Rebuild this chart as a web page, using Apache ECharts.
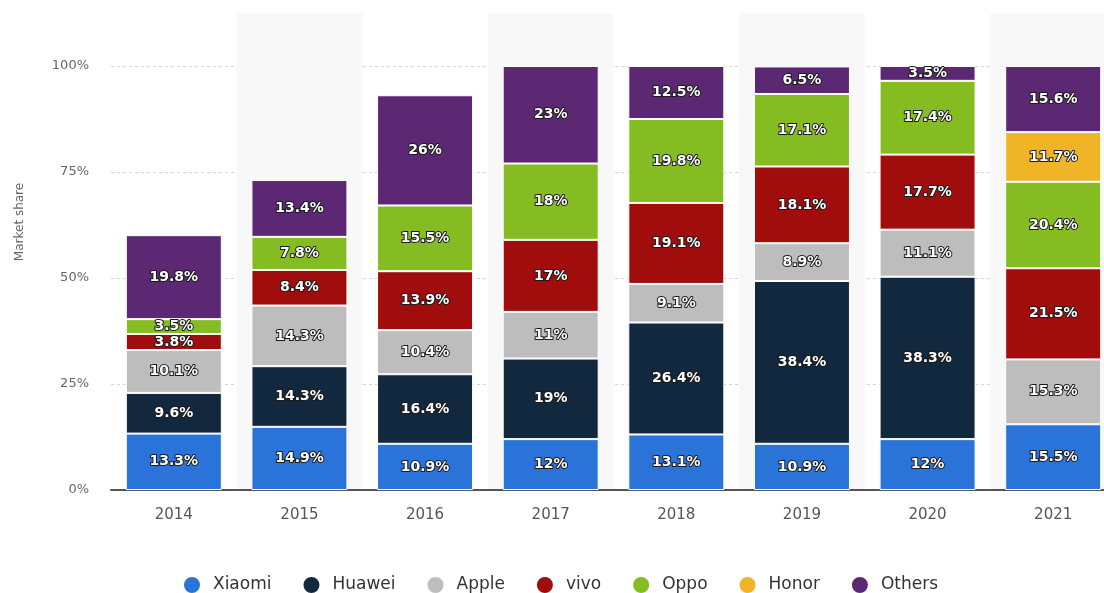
<!DOCTYPE html>
<html>
<head>
<meta charset="utf-8">
<script src="https://cdn.jsdelivr.net/npm/echarts@6/dist/echarts.min.js"></script>
<style>
  html, body { margin: 0; padding: 0; background: #fff; overflow: hidden; }
  #main { width: 1120px; height: 593px; }
</style>
</head>
<body>
<div id="main"></div>
<script>
// 年份
var years = ['2014', '2015', '2016', '2017', '2018', '2019', '2020', '2021'];
// 各品牌份额 (%)
var xiaomi = [13.3, 14.9, 10.9, 12, 13.1, 10.9, 12, 15.5];
var huawei = [9.6, 14.3, 16.4, 19, 26.4, 38.4, 38.3, null];
var apple = [10.1, 14.3, 10.4, 11, 9.1, 8.9, 11.1, 15.3];
var vivo = [3.8, 8.4, 13.9, 17, 19.1, 18.1, 17.7, 21.5];
var oppo = [3.5, 7.8, 15.5, 18, 19.8, 17.1, 17.4, 20.4];
var honor = [null, null, null, null, null, null, null, 11.7];
var others = [19.8, 13.4, 26, 23, 12.5, 6.5, 3.5, 15.6];
var yTicks = [0, 25, 50, 75, 100];

var brands = [
    { name: 'Xiaomi', data: xiaomi, color: '#2a74d9' },
    { name: 'Huawei', data: huawei, color: '#11283f' },
    { name: 'Apple', data: apple, color: '#bdbdbd' },
    { name: 'vivo', data: vivo, color: '#a10c0c' },
    { name: 'Oppo', data: oppo, color: '#85bc22' },
    { name: 'Honor', data: honor, color: '#f0b526' },
    { name: 'Others', data: others, color: '#5c2873' }
];

var font = '"DejaVu Sans", Verdana, sans-serif';

var series = [];
for (var i = 0; i < brands.length; i++) {
    series.push({
        name: brands[i].name,
        type: 'bar',
        stack: 'share',
        barWidth: 96,
        data: brands[i].data,
        itemStyle: {
            color: brands[i].color,
            borderColor: '#fff',
            borderWidth: 1
        },
        label: {
            show: true,
            position: 'inside',
            formatter: function(p) {
                return p.value == null ? '' : p.value + '%';
            },
            color: '#fff',
            fontFamily: font,
            fontWeight: 'bold',
            fontSize: 14,
            textBorderColor: '#1a1a1a',
            textBorderWidth: 2
        }
    });
}

var myChart = echarts.init(document.getElementById('main'));
var option = {
    animation: false,
    textStyle: { fontFamily: font },
    // 右边被截掉一点, 画布比窗口宽
    grid: { left: 111, right: 4, top: 13, bottom: 103, containLabel: false },
    legend: {
        top: 570,
        left: 'center',
        icon: 'circle',
        itemWidth: 18,
        itemHeight: 18,
        itemGap: 30,
        textStyle: { fontSize: 17, color: '#333', fontFamily: font, padding: [0, 0, 0, 7] },
        data: brands.map(function(b) { return b.name; })
    },
    xAxis: {
        type: 'category',
        data: years,
        axisLine: { lineStyle: { color: '#555', width: 2 } },
        axisTick: { show: false },
        axisLabel: { color: '#555', fontSize: 15, margin: 18 },
        splitArea: { show: true, areaStyle: { color: ['rgba(0,0,0,0)', '#f8f8f8'] } }
    },
    yAxis: {
        type: 'value',
        min: 0,
        max: 112.5,
        interval: 25,
        axisLine: { show: false },
        axisTick: { show: false },
        axisLabel: {
            color: '#666',
            fontSize: 13,
            margin: 22,
            showMaxLabel: false,
            formatter: function(v) {
                return yTicks.indexOf(v) >= 0 ? v + '%' : '';
            }
        },
        splitLine: {
            showMaxLine: false,
            lineStyle: { color: '#d4d4d4', type: [3, 3] }
        }
    },
    graphic: [{
        type: 'text',
        x: 20,
        y: 222,
        rotation: Math.PI / 2,
        style: {
            text: 'Market share',
            fill: '#666',
            fontSize: 12,
            fontFamily: font,
            align: 'center',
            verticalAlign: 'middle'
        }
    }],
    series: series
};
myChart.setOption(option);
</script>
</body>
</html>
